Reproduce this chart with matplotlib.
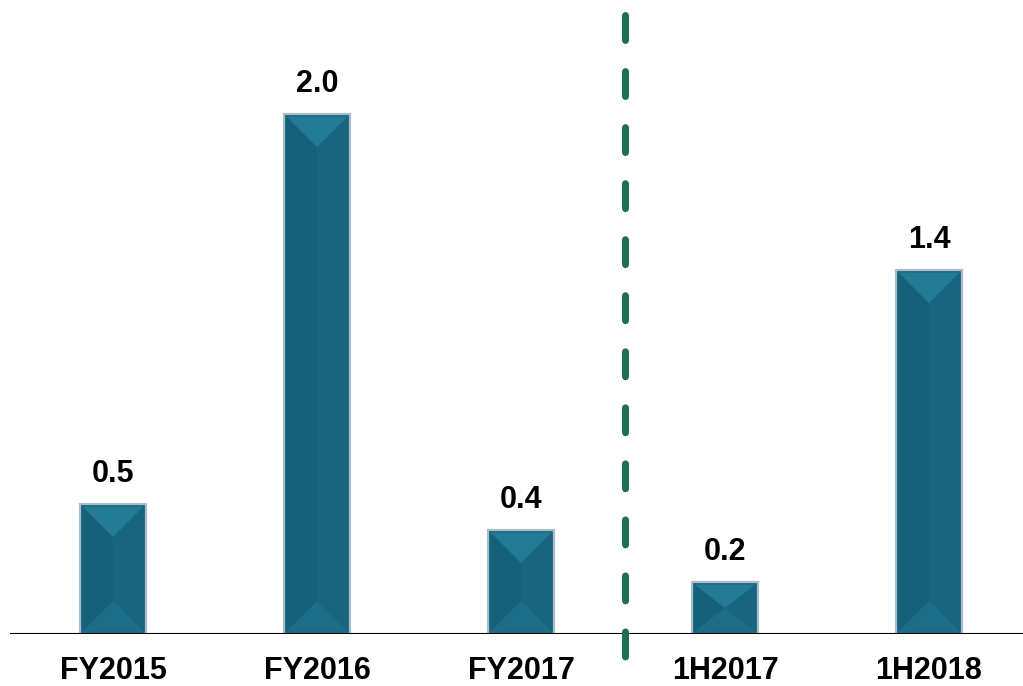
import matplotlib
matplotlib.use("Agg")
import matplotlib.pyplot as plt
from matplotlib.patches import Rectangle, Polygon

categories = ["FY2015", "FY2016", "FY2017", "1H2017", "1H2018"]
values = [0.5, 2.0, 0.4, 0.2, 1.4]
value_labels = ["0.5", "2.0", "0.4", "0.2", "1.4"]

plt.rcParams['font.family'] = ['Liberation Sans', 'DejaVu Sans']

W, H = 1023, 686
fig = plt.figure(figsize=(W / 100, H / 100), dpi=100)
ax = fig.add_axes([10 / W, 52 / H, 1 - 10 / W, 634 / H])
px_per_unit = 260.0
ax.set_ylim(0, 634 / px_per_unit)
spacing = 204.0
x0 = 113 - 10
ax.set_xlim(-x0 / spacing, (W - 10 - x0) / spacing)

bar_w = 66 / spacing
base = "#19647e"
top_c = "#237a94"
bot_c = "#1c6d87"
side_c = "#175d76"
for i, v in enumerate(values):
    left = i - bar_w / 2
    ax.add_patch(Rectangle((left, 0), bar_w, v, facecolor=base,
                           edgecolor="#a9bfc7", lw=1.6, zorder=2))
    tri_h_px = min(33, v * px_per_unit / 2)
    tri_h = tri_h_px / px_per_unit
    inset = 2.5 / spacing
    ins_y = 2.5 / px_per_unit
    ax.add_patch(Polygon([(left + inset, v - ins_y), (i, v - tri_h), (i, tri_h),
                          (left + inset, ins_y)], closed=True, facecolor=side_c,
                         edgecolor="none", zorder=3, alpha=0.5))
    ax.add_patch(Polygon([(left + inset, v - ins_y), (left + bar_w - inset, v - ins_y),
                          (i, v - tri_h)], closed=True, facecolor=top_c,
                         edgecolor="none", zorder=3))
    ax.add_patch(Polygon([(left + inset, ins_y), (left + bar_w - inset, ins_y),
                          (i, tri_h)], closed=True, facecolor=bot_c,
                         edgecolor="none", zorder=3))
    ax.text(i, v + 15 / px_per_unit, value_labels[i], ha="center", va="bottom",
            fontsize=22, fontweight="bold", color="black")
    ax.text(i, -37 / px_per_unit, categories[i], ha="center", va="center",
            fontsize=22, fontweight="bold", color="black")

ax.axhline(0, color="black", lw=1.5, zorder=4)

# dashed separator (drawn top to bottom)
sep_x = (625 - 113) / spacing
ax.plot([sep_x, sep_x], [(634 - 14.5) / px_per_unit, (634 - 658) / px_per_unit],
        color="#1e6e4f", lw=5, linestyle=(0, (3.6, 4.47)),
        dash_capstyle="round", solid_capstyle="round", zorder=5, clip_on=False)

for s in ax.spines.values():
    s.set_visible(False)
ax.set_xticks([])
ax.set_yticks([])
ax.patch.set_alpha(0)

fig.savefig("out.png", dpi=100)
